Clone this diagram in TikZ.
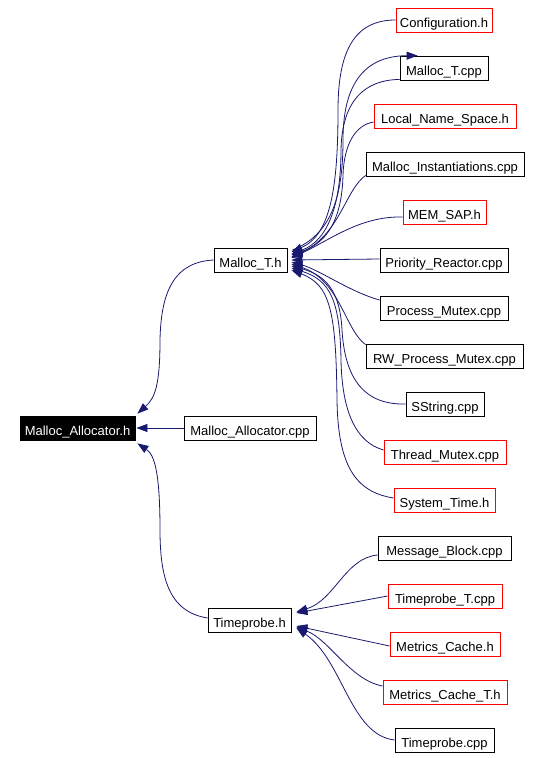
\documentclass[tikz,border=0pt]{standalone}
\usepackage{fontspec}
\setmainfont{Liberation Sans}
\usetikzlibrary{arrows.meta,calc}
\definecolor{edgec}{RGB}{25,25,112}
\begin{document}
\begin{tikzpicture}[x=1pt,y=-1pt,
 box/.style={draw=black, rectangle, inner sep=0pt, minimum height=24pt, text height=14pt, text depth=0pt, font=\fontsize{13}{15}\selectfont, line width=0.8pt},
 redbox/.style={box, draw=red},
 edge/.style={draw=edgec, line width=0.8pt, -{Triangle[length=11pt,width=8pt]}}]
\useasboundingbox (0,0) rectangle (542,758);
% left / middle
\node[box, minimum width=115, fill=black, text=white] (mah) at (77.5,428) {Malloc\_Allocator.h};
\node[box, minimum width=132] (macpp) at (250,428) {Malloc\_Allocator.cpp};
\node[box, minimum width=73] (mth) at (250.5,260) {Malloc\_T.h};
\node[box, minimum width=83] (tph) at (249.5,620) {Timeprobe.h};
% right column
\node[redbox, minimum width=96] (cfg) at (444,20) {Configuration.h};
\node[box, minimum width=88] (mtcpp) at (444,68) {Malloc\_T.cpp};
\node[redbox, minimum width=142] (lns) at (445,116) {Local\_Name\_Space.h};
\node[box, minimum width=158] (mi) at (445,164) {Malloc\_Instantiations.cpp};
\node[redbox, minimum width=83] (msap) at (444.5,212) {MEM\_SAP.h};
\node[box, minimum width=128] (pr) at (444,260) {Priority\_Reactor.cpp};
\node[box, minimum width=128] (pm) at (444,308) {Process\_Mutex.cpp};
\node[box, minimum width=157] (rwpm) at (444.5,356) {RW\_Process\_Mutex.cpp};
\node[box, minimum width=78] (ss) at (445,404) {SString.cpp};
\node[redbox, minimum width=122] (tm) at (445,452) {Thread\_Mutex.cpp};
\node[redbox, minimum width=101] (st) at (444.5,500) {System\_Time.h};
\node[box, minimum width=133] (mb) at (444.5,548) {Message\_Block.cpp};
\node[redbox, minimum width=114] (tpt) at (445,596) {Timeprobe\_T.cpp};
\node[redbox, minimum width=110] (mc) at (445,644) {Metrics\_Cache.h};
\node[redbox, minimum width=124] (mct) at (445,692) {Metrics\_Cache\_T.h};
\node[box, minimum width=99] (tpc) at (444.5,740) {Timeprobe.cpp};
% edges into Malloc_T.h
\draw[edge] (cfg.west) .. controls (355,20) and (338,50) .. (338,110)
  .. controls (338,190) and (330,235) .. ($(mth.east)+(4,-8)$);
\draw[edge] ($(mtcpp.south west)+(0,-1)$) .. controls (365,80) and (342,100) .. (341,150)
  .. controls (341,200) and (330,240) .. ($(mth.east)+(4,-6)$);
\draw[edge] ($(mth.east)+(5,-10)$) .. controls (330,235) and (343,200) .. (343,140)
  .. controls (343,90) and (360,56) .. ($(mtcpp.north west)+(18,0)$);
\draw[edge] ($(lns.west)+(0,6)$) .. controls (355,125) and (344,145) .. (343,175)
  .. controls (342,215) and (330,242) .. ($(mth.east)+(4,-5)$);
\draw[edge] ($(mi.south west)+(0,-1)$) .. controls (345,190) and (340,235) .. ($(mth.east)+(4,-3)$);
\draw[edge] ($(msap.west)+(0,5)$) .. controls (360,216) and (330,240) .. ($(mth.east)+(4,-2)$);
\draw[edge] ($(pr.west)+(0,-1)$) -- ($(mth.east)+(4,0)$);
\draw[edge] ($(pm.west)+(0,-8)$) .. controls (350,292) and (320,270) .. ($(mth.east)+(4,2)$);
\draw[edge] ($(rwpm.north west)+(0,1)$) .. controls (345,330) and (340,280) .. ($(mth.east)+(4,4)$);
\draw[edge] (ss.west) .. controls (365,405) and (345,380) .. (342,330)
  .. controls (340,290) and (325,275) .. ($(mth.east)+(4,6)$);
\draw[edge] ($(tm.west)+(0,-2)$) .. controls (355,442) and (342,410) .. (341,360)
  .. controls (340,300) and (330,280) .. ($(mth.east)+(4,8)$);
\draw[edge] ($(st.west)+(0,-2)$) .. controls (355,492) and (338,465) .. (337,400)
  .. controls (336,310) and (330,285) .. ($(mth.east)+(4,10)$);
% edges into Malloc_Allocator.h
\draw[edge] (mth.west) .. controls (175,262) and (161,290) .. (160,340)
  .. controls (160,385) and (155,398) .. ($(mah.north east)+(2,-2)$);
\draw[edge] (macpp.west) -- ($(mah.east)+(1,0)$);
\draw[edge] ($(tph.west)+(0,-2)$) .. controls (170,612) and (160,580) .. (160,530)
  .. controls (160,475) and (155,455) .. ($(mah.south east)+(2,3)$);
% edges into Timeprobe.h
\draw[edge] ($(mb.west)+(0,7)$) .. controls (345,558) and (335,600) .. ($(tph.east)+(5,-8)$);
\draw[edge] ($(tpt.west)+(0,0)$) -- ($(tph.east)+(5,-7)$);
\draw[edge] ($(mc.west)+(0,2)$) -- ($(tph.east)+(5,6)$);
\draw[edge] ($(mct.west)+(0,-6)$) .. controls (350,680) and (330,640) .. ($(tph.east)+(5,7)$);
\draw[edge] ($(tpc.west)+(0,0)$) .. controls (350,735) and (343,660) .. ($(tph.east)+(5,8)$);
\end{tikzpicture}
\end{document}
